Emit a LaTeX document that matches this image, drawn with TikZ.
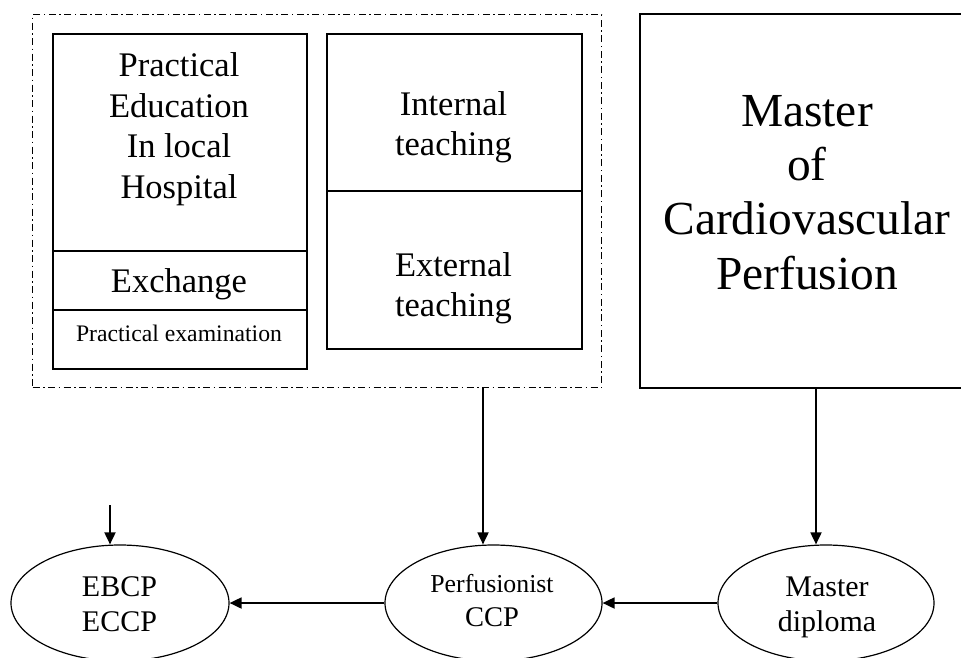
\documentclass[tikz,border=0pt]{standalone}
\usepackage{fontspec}
\setmainfont{Liberation Serif}
\usetikzlibrary{shapes.geometric,arrows.meta}
\begin{document}
\begin{tikzpicture}[x=1pt,y=-1pt,
  box/.style={draw, line width=1.5pt, inner sep=0pt, anchor=north west},
  dashbox/.style={draw, line width=1.4pt, inner sep=0pt, anchor=north west,
    dash pattern=on 7pt off 3.5pt on 1.5pt off 3.5pt},
  oval/.style={draw, ellipse, line width=1.2pt, inner sep=0pt},
  txt/.style={inner sep=0pt, align=center},
  big/.style={font=\fontsize{34.5}{40.5}\selectfont},
  arr/.style={line width=1.8pt, -{Triangle[length=12pt,width=11pt]}}]
\useasboundingbox (0,0) rectangle (961,657);
% dashed frame
\node[dashbox, minimum width=569pt, minimum height=373pt] (frame) at (32,14) {};
% left column
\node[box, minimum width=254pt, minimum height=217pt] (pe) at (52,33) {};
\node[box, minimum width=254pt, minimum height=59pt] (ex) at (52,250) {};
\node[box, minimum width=254pt, minimum height=59pt] (px) at (52,309) {};
% middle column
\node[box, minimum width=255pt, minimum height=157pt] (it) at (326,33) {};
\node[box, minimum width=255pt, minimum height=158pt] (et) at (326,190) {};
% master box
\node[box, minimum width=335pt, minimum height=374pt] (mb) at (639,13) {};
% texts
\node[txt, big] (petxt) at (179,129) {Practical\\Education\\In local\\Hospital};
\node[txt, big] (extxt) at (179,284) {Exchange};
\node[txt, font=\fontsize{23.7}{28}\selectfont] (pxtxt) at (179,333.5) {Practical examination};
\node[txt, big] (ittxt) at (453.5,127) {Internal\\teaching};
\node[txt, big] (ettxt) at (453.5,288) {External\\teaching};
\node[txt, font=\fontsize{47.4}{54.3}\selectfont] (mbtxt) at (807,192.5) {Master\\of\\Cardiovascular\\Perfusion};
% ellipses
\node[oval, minimum width=218pt, minimum height=116pt] (ebcp) at (120,603) {};
\node[oval, minimum width=217pt, minimum height=116pt] (perf) at (493.5,603) {};
\node[oval, minimum width=216pt, minimum height=116pt] (md) at (826,603) {};
\node[txt, font=\fontsize{30}{35}\selectfont] (ebcptxt) at (119.5,604.5) {EBCP\\ECCP};
\node[txt, font=\fontsize{28.5}{34}\selectfont] (perftxt) at (492,601) {{\fontsize{25.8}{34}\selectfont Perfusionist}\\CCP};
\node[txt, font=\fontsize{30}{35}\selectfont] (mdtxt) at (827,607.5) {Master\\diploma};
% connectors
\coordinate (ax) at (483,0);
\coordinate (bx) at (816,0);
\coordinate (es) at (110,505);
\draw[arr] (frame.south -| ax) -- (perf.north -| ax);
\draw[arr] (mb.south -| bx) -- (md.north -| bx);
\draw[arr] (es) -- (ebcp.north -| es);
\draw[arr] (perf.west) -- (ebcp.east);
\draw[arr] (md.west) -- (perf.east);
\end{tikzpicture}
\end{document}
